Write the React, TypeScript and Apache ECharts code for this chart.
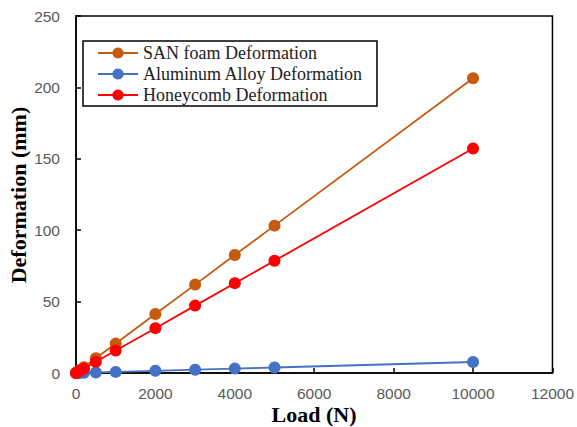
import React, { useEffect, useRef } from "react";
import * as echarts from "echarts";

const loads = [0, 50, 100, 200, 500, 1000, 2000, 3000, 4000, 5000, 10000];
const sanFoam = [0, 1.0, 2.1, 4.1, 10.3, 20.6, 41.3, 61.9, 82.6, 103.2, 206.4];
const aluminum = [0, 0.04, 0.08, 0.15, 0.39, 0.77, 1.54, 2.3, 3.1, 3.85, 7.7];
const honeycomb = [0, 0.8, 1.6, 3.1, 7.9, 15.7, 31.4, 47.2, 62.9, 78.6, 157.2];
const seriesNames = [
  "SAN foam Deformation",
  "Aluminum Alloy Deformation",
  "Honeycomb Deformation",
];
const colors = ["#C55A11", "#4472C4", "#FF0000"];

export default function App() {
  const ref = useRef<HTMLDivElement>(null);
  useEffect(() => {
    if (!ref.current) return;
    const chart = echarts.init(ref.current, null, { renderer: "svg" });
    const datasets = [sanFoam, aluminum, honeycomb];
    chart.setOption({
      animation: false,
      backgroundColor: "#fff",
      grid: {
        left: 76,
        top: 16,
        right: 24,
        bottom: 54,
        show: true,
        borderColor: "#000",
        borderWidth: 1.5,
        backgroundColor: "transparent",
      },
      legend: {
        orient: "vertical",
        left: 83,
        top: 41,
        width: 298,
        borderColor: "#000",
        borderWidth: 1.5,
        backgroundColor: "#fff",
        padding: [3, 14, 2, 14],
        itemGap: 3,
        itemWidth: 40,
        itemHeight: 14,
        textStyle: {
          fontFamily: "'Liberation Serif', 'Times New Roman', serif",
          fontSize: 18,
          color: "#222",
        },
        data: seriesNames,
      },
      xAxis: {
        type: "value",
        min: 0,
        max: 12000,
        interval: 2000,
        axisLine: { lineStyle: { color: "#000", width: 1.5 } },
        axisTick: { show: true, inside: true, length: 5, lineStyle: { color: "#000", width: 1.5 } },
        axisLabel: {
          color: "#595959",
          fontFamily: "Liberation Sans",
          fontSize: 15.5,
          margin: 12,
          formatter: (v: number) => String(v),
        },
        splitLine: { show: false },
      },
      yAxis: {
        type: "value",
        min: 0,
        max: 250,
        interval: 50,
        axisLine: { show: true, lineStyle: { color: "#000", width: 1.5 } },
        axisTick: { show: true, inside: true, length: 5, lineStyle: { color: "#000", width: 1.5 } },
        axisLabel: {
          color: "#595959",
          fontFamily: "Liberation Sans",
          fontSize: 15.5,
          margin: 16,
          formatter: (v: number) => String(v),
        },
        splitLine: { show: false },
      },
      graphic: [
        {
          type: "text",
          x: 18,
          y: 195,
          rotation: Math.PI / 2,
          style: {
            text: "Deformation (mm)",
            fontFamily: "Liberation Serif",
            fontWeight: "bold",
            fontSize: 22,
            fill: "#000",
            textAlign: "center",
            textVerticalAlign: "middle",
          },
        },
        {
          type: "text",
          x: 314,
          y: 414,
          style: {
            text: "Load (N)",
            fontFamily: "Liberation Serif",
            fontWeight: "bold",
            fontSize: 22,
            fill: "#000",
            textAlign: "center",
            textVerticalAlign: "middle",
          },
        },
      ],
      series: datasets.map((d, i) => ({
        name: seriesNames[i],
        type: "line",
        data: loads.map((x, j) => [x, d[j]]),
        symbol: "circle",
        symbolSize: 12,
        showAllSymbol: true,
        itemStyle: { color: colors[i] },
        lineStyle: { color: colors[i], width: 1.8 },
        z: i === 1 ? 1 : 2 + i,
      })),
    });
    return () => chart.dispose();
  }, []);
  return <div ref={ref} style={{ width: 577, height: 427, position: "absolute", left: 0, top: 0 }} />;
}
